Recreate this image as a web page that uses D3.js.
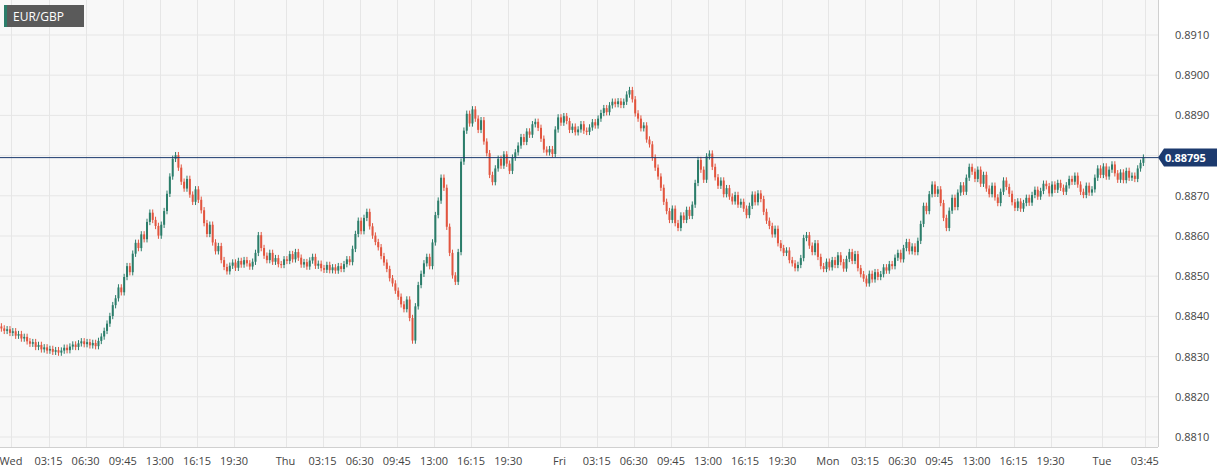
<!DOCTYPE html><html><head><meta charset="utf-8">
<script src="https://cdn.jsdelivr.net/npm/d3@7"></script>
<style>body{margin:0;background:#fff;font-family:"Open Sans",Arial,sans-serif}</style></head><body>
<svg id="c" width="1229" height="473"></svg>
<script>
// closes in pips above 0.8800 (15-minute candles)
const closePips=[
37,36.4,36.8,35.9,36.3,35.2,35.6,34.5,34.9,33.8,33.2,33.6,32.4,32.9,31.8,32.3,31.5,31.9,31.2,31.6,
31.0,31.5,32.2,31.6,32.5,33.0,32.4,33.3,33.8,33.1,33.6,32.8,33.4,32.6,33.9,35.0,36.4,38.2,40.1,42.8,
44.5,47.2,46.0,49.8,52.5,51.0,55.6,58.3,57.0,60.4,59.2,63.5,65.8,64.0,62.5,60.1,62.8,66.2,70.5,74.8,
79.2,80.1,77.0,73.5,71.8,74.2,70.3,68.5,71.6,69.0,66.4,63.2,60.5,62.8,58.4,56.2,57.5,54.0,52.3,51.2,
52.6,53.4,52.1,53.8,52.9,54.0,53.2,52.4,53.6,55.8,60.2,57.0,55.1,54.0,55.8,53.6,54.5,53.0,52.8,54.2,
53.8,55.5,54.2,56.0,54.6,52.9,53.5,52.4,53.9,54.8,52.6,53.1,52.0,51.6,52.8,51.5,52.2,51.4,52.5,51.8,
53.0,54.2,53.5,56.8,60.5,63.8,61.2,64.5,66.0,62.4,60.1,58.5,57.2,55.0,53.4,51.8,49.5,48.2,46.4,44.9,
43.0,41.8,44.2,39.6,34.0,42.5,47.8,50.6,53.2,54.8,52.5,58.4,65.2,68.8,74.5,72.0,62.3,55.8,50.2,48.6,
56.0,78.5,86.2,90.4,88.0,91.5,89.2,86.4,88.8,83.5,80.6,75.2,73.4,76.8,79.2,77.5,80.3,78.0,76.2,79.5,
80.8,82.5,84.6,83.4,86.0,85.2,87.8,88.4,86.9,84.2,81.5,80.8,81.6,80.4,86.5,89.5,88.2,89.8,88.6,86.4,
87.2,85.8,86.5,87.8,86.2,85.9,87.0,88.3,87.5,89.2,90.6,91.8,90.8,92.5,93.4,92.8,93.5,92.6,93.4,95.2,
96.3,94.0,90.5,89.2,86.8,87.5,84.0,82.8,79.5,77.0,74.8,72.0,68.5,66.2,64.0,66.8,63.2,62.0,65.1,64.0,
66.5,65.0,67.8,73.2,78.9,76.5,74.0,79.8,80.5,77.2,74.6,72.5,73.8,70.4,71.9,69.8,68.6,70.2,67.8,68.5,
66.8,65.2,67.5,70.3,68.4,70.6,69.2,66.0,63.8,62.5,60.4,61.8,58.2,57.0,55.8,56.4,54.0,53.2,52.0,52.8,
54.5,59.5,60.2,57.6,56.0,58.2,54.8,52.5,51.8,53.6,52.2,54.0,52.8,55.2,53.5,51.9,54.3,56.0,53.8,55.5,
52.0,50.5,49.4,48.2,50.6,49.2,51.0,49.8,50.5,52.2,51.4,53.0,52.5,54.6,55.8,54.2,57.0,58.5,56.2,57.4,
56.0,58.8,63.0,67.5,66.2,70.4,72.8,70.5,71.6,68.2,64.5,62.0,66.3,69.5,67.2,70.8,72.6,71.0,74.5,77.2,
76.0,74.2,76.5,73.0,75.2,71.8,70.4,72.5,69.6,68.2,71.0,73.8,72.2,70.5,68.4,67.0,68.6,66.8,68.2,69.5,
68.3,70.2,71.5,69.8,71.2,73.0,72.4,70.6,72.8,71.5,73.2,72.0,71.0,72.6,74.2,73.5,75.0,72.8,71.0,70.2,
72.5,70.8,71.6,74.5,76.8,75.2,77.3,74.8,76.5,77.8,75.6,74.0,75.8,73.9,76.2,74.5,75.0,74.2,76.8,78.2,
79.5];
const firstOpen=37.5;
const tickIdx=[4,17,30,43,56,69,82,100,113,126,139,152,165,178,196,209,222,235,248,261,274,290,303,316,329,342,355,368,386,401];
const tickLab=["Wed","03:15","06:30","09:45","13:00","16:15","19:30","Thu","03:15","06:30","09:45","13:00","16:15","19:30","Fri","03:15","06:30","09:45","13:00","16:15","19:30","Mon","03:15","06:30","09:45","13:00","16:15","19:30","Tue","03:45"];
const priceTicks=[0.881,0.882,0.883,0.884,0.885,0.886,0.887,0.888,0.889,0.890,0.891];
const lastPrice=0.88795, symbol="EUR/GBP";

const svg=d3.select("#c");
const W=1158,H=447;
const data=closePips.map((c,i)=>{const o=i?closePips[i-1]:firstOpen;return{i,o:0.88+o/1e4,c:0.88+c/1e4};});
const x=d3.scaleLinear().domain([0,closePips.length]).range([0,closePips.length*2.855]);
const y=d3.scaleLinear().domain([0.8810,0.8910]).range([437,35]);
svg.append("rect").attr("width",W).attr("height",H).attr("fill","#f8f8f8");
svg.append("g").selectAll("line").data(priceTicks).join("line").attr("x1",0).attr("x2",W)
 .attr("y1",d=>y(d)).attr("y2",d=>y(d)).attr("stroke","#e6e6e6");
svg.append("g").selectAll("line").data(tickIdx).join("line").attr("y1",0).attr("y2",H)
 .attr("x1",d=>Math.round(x(d))+0.5).attr("x2",d=>Math.round(x(d))+0.5).attr("stroke","#e6e6e6");
svg.append("line").attr("x1",W+0.5).attr("x2",W+0.5).attr("y1",0).attr("y2",H).attr("stroke","#d0d0d0");
svg.append("line").attr("x1",0).attr("x2",W).attr("y1",H+0.5).attr("y2",H+0.5).attr("stroke","#d0d0d0");
const up="#2b7d6a",dn="#e2553f";
const g=svg.append("g");
data.forEach(d=>{const cx=x(d.i)+1.4,col=d.c>=d.o?up:dn;
 const hi=Math.max(d.o,d.c)+0.00008,lo=Math.min(d.o,d.c)-0.00008;
 g.append("line").attr("x1",cx).attr("x2",cx).attr("y1",y(hi)).attr("y2",y(lo)).attr("stroke",col).attr("stroke-width",1);
 const t=y(Math.max(d.o,d.c)),b=y(Math.min(d.o,d.c));
 g.append("rect").attr("x",cx-1).attr("width",2).attr("y",t).attr("height",Math.max(1,b-t)).attr("fill",col);});
svg.append("line").attr("x1",0).attr("x2",W).attr("y1",y(lastPrice)).attr("y2",y(lastPrice)).attr("stroke","#1c3a6e").attr("stroke-width",1);
const ly=y(lastPrice);
svg.append("g").selectAll("text").data(priceTicks.filter(d=>Math.abs(y(d)-ly)>12)).join("text").attr("x",1175).attr("y",d=>y(d)+4)
 .attr("font-size",11).attr("fill","#444").text(d=>d.toFixed(4));
svg.append("path").attr("d",`M${W},${ly} L${W+6},${ly-9} H1217 V${ly+9} H${W+6} Z`).attr("fill","#1c3a6e");
svg.append("text").attr("x",1165).attr("y",ly+4).attr("font-size",11).attr("font-weight","bold").attr("fill","#fff").text(lastPrice.toFixed(5));
svg.append("g").selectAll("text").data(tickIdx).join("text").attr("x",d=>x(d)).attr("y",465)
 .attr("text-anchor",(d,i)=>i===0?"start":"middle").attr("dx",(d,i)=>i===0?-12:0)
 .attr("font-size",11).attr("fill","#444").text((d,i)=>tickLab[i]);
svg.append("rect").attr("x",4).attr("y",5).attr("width",80).attr("height",22).attr("fill","#5a5a5a");
svg.append("rect").attr("x",4).attr("y",5).attr("width",3).attr("height",22).attr("fill","#2b7d6a");
svg.append("text").attr("x",13).attr("y",21).attr("font-size",12).attr("fill","#fff").text(symbol);
</script></body></html>
